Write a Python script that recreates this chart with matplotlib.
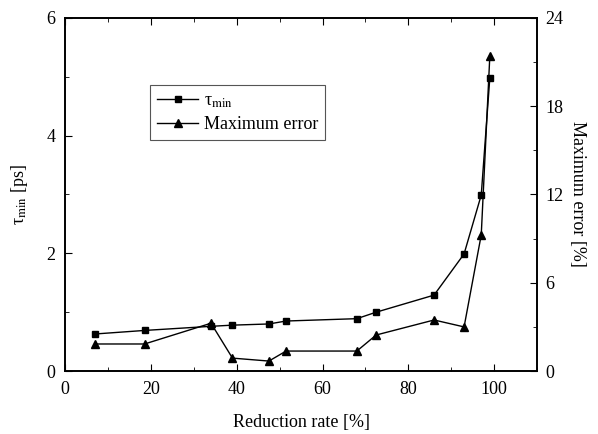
import matplotlib
matplotlib.use("Agg")
import matplotlib.pyplot as plt
from matplotlib.ticker import MultipleLocator

plt.rcParams["font.family"] = ["Liberation Serif", "DejaVu Serif"]
plt.rcParams["mathtext.fontset"] = "stix"
plt.rcParams["font.size"] = 13

# data
reduction = [7, 18.5, 34, 39, 47.5, 51.5, 68, 72.5, 86, 93, 97, 99]
tau_min = [0.63, 0.69, 0.76, 0.78, 0.80, 0.85, 0.89, 1.0, 1.29, 1.99, 2.99, 4.98]
max_error = [1.84, 1.84, 3.25, 0.88, 0.68, 1.36, 1.36, 2.45, 3.47, 3.0, 9.25, 21.4]

fig = plt.figure(figsize=(5.98, 4.34), dpi=100)
ax = fig.add_axes([0.109, 0.145, 0.789, 0.814])
ax2 = ax.twinx()

l1, = ax.plot(reduction, tau_min, color="black", lw=1, marker="s", ms=4.5,
              label="τ$_{\\mathrm{min}}$")
l2, = ax2.plot(reduction, max_error, color="black", lw=1, marker="^", ms=6,
               label="Maximum error")

ax.set_xlim(0, 110)
ax.set_ylim(0, 6)
ax2.set_ylim(0, 24)

ax.xaxis.set_major_locator(MultipleLocator(20))
ax.xaxis.set_minor_locator(MultipleLocator(10))
ax.yaxis.set_major_locator(MultipleLocator(2))
ax.yaxis.set_minor_locator(MultipleLocator(1))
ax2.yaxis.set_major_locator(MultipleLocator(6))
ax2.yaxis.set_minor_locator(MultipleLocator(3))

ax.tick_params(which="both", direction="in", top=True, right=False)
ax.tick_params(which="major", length=5, pad=7)
ax.tick_params(which="minor", length=3)
ax2.tick_params(which="both", direction="in")
ax2.tick_params(which="major", length=5, pad=6)
ax2.tick_params(which="minor", length=3)
for a in (ax, ax2):
    for s in a.spines.values():
        s.set_linewidth(1.2)

ax.set_xlabel("Reduction rate [%]", labelpad=12)
ax.set_ylabel("τ$_{\\mathrm{min}}$ [ps]", labelpad=12)
ax2.set_ylabel("Maximum error [%]", rotation=270, labelpad=16)

leg = ax.legend(handles=[l1, l2], loc="upper left", bbox_to_anchor=(0.16, 0.835),
                fancybox=False, edgecolor="#555555", framealpha=1, borderpad=0.4,
                handlelength=2.3, handletextpad=0.3, labelspacing=0.35)
leg.get_frame().set_linewidth(0.8)

fig.savefig("out.png", dpi=100)
